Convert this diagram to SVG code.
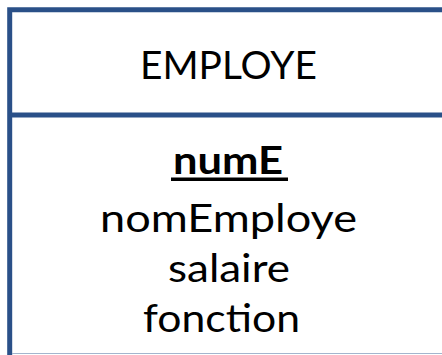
<svg xmlns="http://www.w3.org/2000/svg" width="442" height="355" viewBox="0 0 442 355">
<style>
.b{stroke:#2a5088;stroke-width:5;fill:none}
.t{font-family:Lato,"Open Sans","Liberation Sans",sans-serif;font-size:38px;fill:#000;text-anchor:middle}
.k{font-weight:bold}
</style>
<rect width="442" height="355" fill="#fff"/>
<g id="employe">
<path class="b" d="M450 9.7H9.7V360"/>
<path class="b" d="M9.7 115H450"/>
<path d="M12 353.5H442" stroke="#a3b5cd" stroke-width="1"/>
<text class="t" x="228.5" y="79" textLength="177" lengthAdjust="spacingAndGlyphs">EMPLOYE</text>
<text class="t k" x="228" y="174" textLength="110" lengthAdjust="spacingAndGlyphs">numE</text>
<rect x="171" y="177.5" width="117" height="3.5" fill="#000"/>
<text class="t" x="228.5" y="232" textLength="257" lengthAdjust="spacingAndGlyphs">nomEmploye</text>
<text class="t" x="229" y="282" textLength="122" lengthAdjust="spacingAndGlyphs">salaire</text>
<text class="t" x="221.5" y="332" textLength="157" lengthAdjust="spacingAndGlyphs">fonction</text>
</g>
</svg>
